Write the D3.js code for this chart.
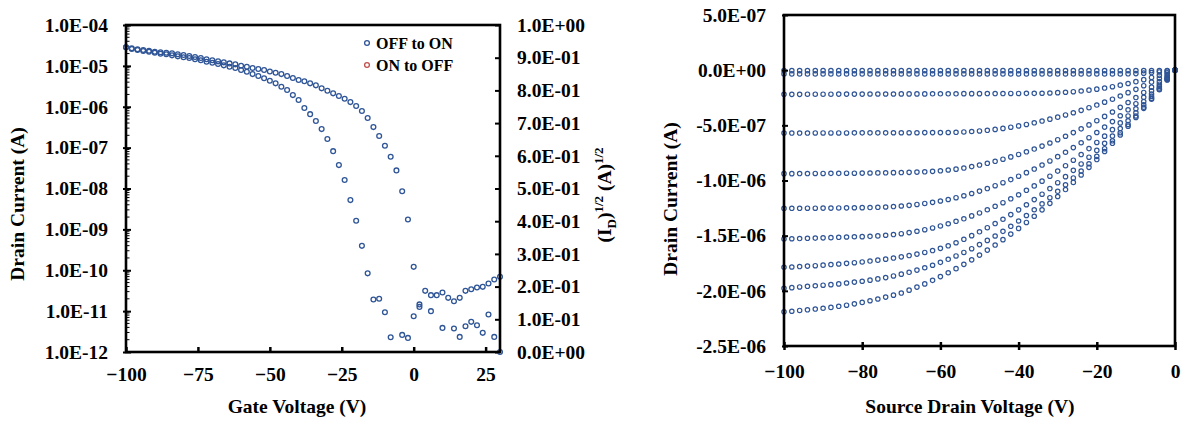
<!DOCTYPE html>
<html><head><meta charset="utf-8">
<script src="https://cdn.jsdelivr.net/npm/d3@7"></script>
<style>
html,body{margin:0;padding:0;background:#fff;}
svg text{font-family:"Liberation Serif","Times New Roman",serif;font-weight:bold;fill:#000;}
</style></head><body>
<svg id="c" width="1181" height="422"></svg>
<script>
// ---------- Left chart: transfer curve ----------
const gateVoltage = [-100,-98,-96,-94,-92,-90,-88,-86,-84,-82,-80,-78,-76,-74,-72,-70,-68,-66,-64,-62,-60,-58,-56,-54,-52,-50,-48,-46,-44,-42,-40,-38,-36,-34,-32,-30,-28,-26,-24,-22,-20,-18,-16,-14,-12,-10,-8,-6,-4,-2,0,2,4,6,8,10,12,14,16,18,20,22,24,26,28,30];
const drainCurrentOuter = [2.85e-5,2.69e-5,2.54e-5,2.44e-5,2.35e-5,2.22e-5,2.15e-5,2.10e-5,2.03e-5,1.92e-5,
  1.85e-5,1.74e-5,1.65e-5,1.56e-5,1.45e-5,1.37e-5,1.29e-5,1.22e-5,1.15e-5,1.09e-5,
  1.01e-5,9.5e-6,8.9e-6,8.4e-6,7.9e-6,7.3e-6,6.8e-6,6.3e-6,5.65e-6,5.05e-6,
  4.5e-6,4.19e-6,3.74e-6,3.34e-6,2.82e-6,2.46e-6,2.13e-6,1.83e-6,1.57e-6,1.30e-6,
  1.04e-6,7.9e-7,5.3e-7,3.18e-7,1.92e-7,1.11e-7,5.97e-8,2.77e-8,8.6e-9,1.75e-9,
  1.21e-10,1.46e-11,3.13e-11,2.46e-11,2.46e-11,2.86e-11,2.11e-11,1.75e-11,2.11e-11,3.13e-11,
  3.44e-11,3.79e-11,3.93e-11,4.75e-11,5.96e-11,6.89e-11];
const drainCurrentInner = [2.85e-5,2.58e-5,2.44e-5,2.31e-5,2.22e-5,2.10e-5,1.98e-5,1.92e-5,1.81e-5,1.71e-5,
  1.62e-5,1.56e-5,1.45e-5,1.37e-5,1.26e-5,1.19e-5,1.11e-5,1.03e-5,9.5e-6,8.9e-6,
  7.9e-6,7.2e-6,6.3e-6,5.65e-6,4.96e-6,4.33e-6,3.74e-6,3.09e-6,2.56e-6,1.93e-6,
  1.46e-6,9.3e-7,6.6e-7,4.47e-7,2.84e-7,1.62e-7,8.2e-8,3.74e-8,1.61e-8,5.2e-9,
  1.62e-9,3.95e-10,8.4e-11,1.93e-11,2.0e-11,9.4e-12,2.3e-12,null,2.62e-12,2.21e-12,
  7.5e-12,1.27e-11,null,9.98e-12,null,3.89e-12,null,3.76e-12,2.34e-12,4.28e-12,
  5.46e-12,4.53e-12,2.94e-12,8.3e-12,2.34e-12,1.0e-12];
const logTicks = [1e-4,1e-5,1e-6,1e-7,1e-8,1e-9,1e-10,1e-11,1e-12];
const sqrtTicks = [0,0.1,0.2,0.3,0.4,0.5,0.6,0.7,0.8,0.9,1.0];
const gateTicks = [-100,-75,-50,-25,0,25];
const legendLabels = ["OFF to ON","ON to OFF"];
const legendColors = ["#2F5597","#C0504D"];

// ---------- Right chart: output curves (values in µA) ----------
const sdVoltage = [-100,-98,-96,-94,-92,-90,-88,-86,-84,-82,-80,-78,-76,-74,-72,-70,-68,-66,-64,-62,-60,-58,-56,-54,-52,-50,-48,-46,-44,-42,-40,-38,-36,-34,-32,-30,-28,-26,-24,-22,-20,-18,-16,-14,-12,-10,-8,-6,-4,-2,0];
const idCurve0 = [-0.004,-0.004,-0.004,-0.004,-0.004,-0.004,-0.004,-0.004,-0.004,-0.004,
  -0.004,-0.004,-0.004,-0.004,-0.004,-0.004,-0.004,-0.004,-0.004,-0.004,
  -0.004,-0.004,-0.004,-0.004,-0.004,-0.004,-0.004,-0.004,-0.004,-0.004,
  -0.004,-0.004,-0.004,-0.004,-0.004,-0.004,-0.004,-0.004,-0.004,-0.004,
  -0.004,-0.004,-0.004,-0.004,-0.004,-0.004,-0.004,-0.004,-0.004,-0.003,0];
const idCurve1 = [-0.034,-0.034,-0.034,-0.034,-0.034,-0.034,-0.034,-0.034,-0.034,-0.034,
  -0.034,-0.034,-0.034,-0.034,-0.034,-0.034,-0.034,-0.034,-0.034,-0.034,
  -0.034,-0.034,-0.034,-0.034,-0.034,-0.034,-0.034,-0.034,-0.034,-0.034,
  -0.034,-0.034,-0.034,-0.034,-0.034,-0.034,-0.034,-0.034,-0.034,-0.034,
  -0.034,-0.034,-0.034,-0.034,-0.033,-0.031,-0.027,-0.022,-0.016,-0.009,0];
const idCurve2 = [-0.219,-0.219,-0.219,-0.218,-0.218,-0.218,-0.218,-0.217,-0.217,-0.217,
  -0.217,-0.216,-0.216,-0.216,-0.216,-0.215,-0.215,-0.215,-0.215,-0.214,
  -0.214,-0.214,-0.214,-0.213,-0.213,-0.213,-0.212,-0.212,-0.212,-0.211,
  -0.211,-0.210,-0.210,-0.209,-0.207,-0.204,-0.200,-0.195,-0.189,-0.181,
  -0.172,-0.162,-0.150,-0.136,-0.121,-0.104,-0.086,-0.066,-0.046,-0.023,0];
const idCurve3 = [-0.570,-0.570,-0.570,-0.570,-0.569,-0.569,-0.569,-0.569,-0.569,-0.568,
  -0.568,-0.568,-0.568,-0.568,-0.567,-0.567,-0.567,-0.567,-0.566,-0.566,
  -0.566,-0.565,-0.563,-0.560,-0.556,-0.551,-0.545,-0.537,-0.528,-0.517,
  -0.505,-0.492,-0.477,-0.461,-0.444,-0.426,-0.406,-0.386,-0.364,-0.340,
  -0.316,-0.290,-0.263,-0.234,-0.204,-0.174,-0.141,-0.108,-0.073,-0.037,0];
const idCurve4 = [-0.938,-0.938,-0.937,-0.937,-0.936,-0.936,-0.935,-0.935,-0.934,-0.934,
  -0.933,-0.932,-0.931,-0.930,-0.929,-0.928,-0.926,-0.924,-0.921,-0.917,
  -0.912,-0.905,-0.897,-0.887,-0.874,-0.860,-0.844,-0.826,-0.807,-0.786,
  -0.764,-0.740,-0.715,-0.688,-0.660,-0.630,-0.599,-0.566,-0.532,-0.496,
  -0.458,-0.419,-0.379,-0.337,-0.293,-0.248,-0.202,-0.154,-0.104,-0.053,0];
const idCurve5 = [-1.253,-1.252,-1.252,-1.251,-1.251,-1.250,-1.250,-1.249,-1.248,-1.247,
  -1.246,-1.245,-1.243,-1.240,-1.236,-1.231,-1.225,-1.217,-1.208,-1.198,
  -1.186,-1.172,-1.156,-1.138,-1.118,-1.096,-1.073,-1.047,-1.020,-0.992,
  -0.961,-0.929,-0.896,-0.860,-0.823,-0.784,-0.744,-0.702,-0.658,-0.612,
  -0.565,-0.516,-0.466,-0.413,-0.359,-0.304,-0.246,-0.187,-0.127,-0.064,0];
const idCurve6 = [-1.530,-1.528,-1.526,-1.524,-1.522,-1.520,-1.518,-1.515,-1.512,-1.510,
  -1.509,-1.506,-1.502,-1.496,-1.490,-1.482,-1.472,-1.460,-1.446,-1.430,
  -1.412,-1.392,-1.370,-1.347,-1.321,-1.294,-1.265,-1.234,-1.201,-1.166,
  -1.129,-1.089,-1.049,-1.006,-0.961,-0.915,-0.866,-0.816,-0.765,-0.711,
  -0.655,-0.598,-0.539,-0.478,-0.415,-0.350,-0.284,-0.216,-0.146,-0.074,0];
const idCurve7 = [-1.787,-1.784,-1.780,-1.776,-1.772,-1.767,-1.762,-1.757,-1.751,-1.745,
  -1.738,-1.730,-1.722,-1.713,-1.703,-1.692,-1.680,-1.667,-1.652,-1.635,
  -1.615,-1.592,-1.564,-1.533,-1.500,-1.465,-1.428,-1.390,-1.351,-1.309,
  -1.266,-1.220,-1.173,-1.124,-1.073,-1.020,-0.965,-0.908,-0.850,-0.789,
  -0.727,-0.663,-0.597,-0.529,-0.459,-0.387,-0.314,-0.238,-0.161,-0.081,0];
const idCurve8 = [-1.977,-1.971,-1.965,-1.959,-1.954,-1.949,-1.944,-1.937,-1.929,-1.921,
  -1.913,-1.903,-1.892,-1.880,-1.865,-1.849,-1.832,-1.812,-1.791,-1.768,
  -1.742,-1.714,-1.684,-1.652,-1.618,-1.581,-1.543,-1.503,-1.461,-1.415,
  -1.367,-1.317,-1.265,-1.212,-1.156,-1.098,-1.039,-0.977,-0.914,-0.848,
  -0.781,-0.712,-0.640,-0.567,-0.492,-0.415,-0.336,-0.255,-0.172,-0.087,0];
const idCurve9 = [-2.190,-2.185,-2.178,-2.172,-2.165,-2.158,-2.150,-2.140,-2.130,-2.118,
  -2.105,-2.090,-2.074,-2.057,-2.039,-2.020,-1.994,-1.966,-1.937,-1.905,
  -1.871,-1.836,-1.799,-1.760,-1.719,-1.676,-1.631,-1.585,-1.536,-1.486,
  -1.434,-1.380,-1.324,-1.266,-1.207,-1.145,-1.082,-1.017,-0.950,-0.881,
  -0.810,-0.737,-0.663,-0.587,-0.508,-0.428,-0.346,-0.263,-0.177,-0.089,0];
const outputCurves = [idCurve0,idCurve1,idCurve2,idCurve3,idCurve4,idCurve5,idCurve6,idCurve7,idCurve8,idCurve9];
const currentTicks = [0.5,0,-0.5,-1.0,-1.5,-2.0,-2.5];
const sdTicks = [-100,-80,-60,-40,-20,0];

// ---------- helpers ----------
const fmtE = v => { const s = (+v).toExponential(1); const p = s.split('e'); const n = +p[1];
  return p[0] + 'E' + (n < 0 ? '-' : '+') + String(Math.abs(n)).padStart(2,'0'); };
const BLUE = "#2F5597";
const FS = 19.5;
const svg = d3.select("#c");

function styleAxis(g, sw){
  g.select(".domain").remove();
  g.selectAll(".tick line").attr("stroke","#000").attr("stroke-width", sw);
  g.selectAll(".tick text").attr("font-size", FS).attr("font-family", '"Liberation Serif", serif').attr("font-weight","bold").attr("fill","#000");
}

// ---------- Left chart ----------
const xL = d3.scaleLinear().domain([-100,30]).range([126,500]);
const yL = d3.scaleLog().domain([1e-12,1e-4]).range([352,25]);
const yS = d3.scaleLinear().domain([0,1]).range([352,25]);
const gL = svg.append("g");

// minor log ticks
const minor = yL.ticks().filter(t => logTicks.indexOf(t) < 0 && t > 1e-12 && t < 1e-4);
gL.append("g").selectAll("line").data(minor).join("line")
  .attr("x1",126).attr("x2",129.5).attr("y1",d=>yL(d)).attr("y2",d=>yL(d))
  .attr("stroke","#000").attr("stroke-width",1);

const axL = gL.append("g").attr("transform","translate(126,0)")
  .call(d3.axisLeft(yL).tickValues(logTicks).tickFormat(fmtE).tickSizeInner(3).tickSizeOuter(0).tickPadding(15));
styleAxis(axL, 2);
axL.selectAll(".tick line").attr("x2",-3).attr("x1",5);

const axR = gL.append("g").attr("transform","translate(500,0)")
  .call(d3.axisRight(yS).tickValues(sqrtTicks).tickFormat(fmtE).tickSizeInner(-5).tickSizeOuter(0).tickPadding(17));
styleAxis(axR, 2);

const axB = gL.append("g").attr("transform","translate(0,352)")
  .call(d3.axisBottom(xL).tickValues(gateTicks).tickFormat(d3.format("d")).tickSizeInner(-5).tickSizeOuter(0).tickPadding(15));
styleAxis(axB, 2.5);

// data
[drainCurrentOuter, drainCurrentInner].forEach(arr => {
  const pts = gateVoltage.map((v,i)=>[v,arr[i]]).filter(d=>d[1]!=null);
  gL.append("g").selectAll("circle").data(pts).join("circle")
    .attr("cx",d=>xL(d[0])).attr("cy",d=>yL(d[1])).attr("r",2.4)
    .attr("fill","none").attr("stroke",BLUE).attr("stroke-width",1.3);
});

// frame
gL.append("rect").attr("x",126).attr("y",25).attr("width",374).attr("height",327)
  .attr("fill","none").attr("stroke","#000").attr("stroke-width",2.6);

// legend
legendLabels.forEach((lab,i)=>{
  gL.append("circle").attr("cx",367).attr("cy",43+i*22).attr("r",2.4)
    .attr("fill","none").attr("stroke",legendColors[i]).attr("stroke-width",1.3);
  gL.append("text").attr("x",376).attr("y",48.5+i*22).attr("font-size",16).text(lab);
});

// titles
gL.append("text").attr("x",297).attr("y",413).attr("text-anchor","middle").attr("font-size",FS).text("Gate Voltage (V)");
gL.append("text").attr("transform","translate(24,204) rotate(-90)").attr("text-anchor","middle").attr("font-size",FS).text("Drain Current (A)");
const tS = gL.append("text").attr("transform","translate(611,195) rotate(-90)").attr("text-anchor","middle").attr("font-size",FS);
tS.append("tspan").text("(I");
tS.append("tspan").attr("font-size",13).attr("dy",5).text("D");
tS.append("tspan").attr("dy",-5).text(")");
tS.append("tspan").attr("font-size",13).attr("dy",-8).text("1/2");
tS.append("tspan").attr("dy",8).text(" (A)");
tS.append("tspan").attr("font-size",13).attr("dy",-8).text("1/2");

// ---------- Right chart ----------
const xR = d3.scaleLinear().domain([-100,0]).range([784,1175]);
const yR = d3.scaleLinear().domain([-2.5,0.5]).range([346,15]);
const gR = svg.append("g");

outputCurves.forEach(arr => {
  const pts = sdVoltage.map((v,i)=>[v,arr[i]]);
  gR.append("g").selectAll("circle").data(pts).join("circle")
    .attr("cx",d=>xR(d[0])).attr("cy",d=>yR(d[1])).attr("r",2.2)
    .attr("fill","none").attr("stroke",BLUE).attr("stroke-width",1.2);
});

const axRL = gR.append("g").attr("transform","translate(784,0)")
  .call(d3.axisLeft(yR).tickValues(currentTicks).tickFormat(v=>fmtE(v*1e-6)).tickSizeInner(3).tickSizeOuter(0).tickPadding(15));
styleAxis(axRL, 2);
axRL.selectAll(".tick line").attr("x1",4).attr("x2",-2);

const axRB = gR.append("g").attr("transform","translate(0,346)")
  .call(d3.axisBottom(xR).tickValues(sdTicks).tickFormat(d3.format("d")).tickSizeInner(4).tickSizeOuter(0).tickPadding(14));
styleAxis(axRB, 2.5);
axRB.selectAll(".tick line").attr("y1",-4).attr("y2",4);

gR.append("rect").attr("x",784).attr("y",15).attr("width",391).attr("height",331)
  .attr("fill","none").attr("stroke","#000").attr("stroke-width",2.6);

gR.append("text").attr("x",970).attr("y",413).attr("text-anchor","middle").attr("font-size",FS).text("Source Drain Voltage (V)");
gR.append("text").attr("transform","translate(677,199) rotate(-90)").attr("text-anchor","middle").attr("font-size",FS).text("Drain Current (A)");
</script>
</body></html>
